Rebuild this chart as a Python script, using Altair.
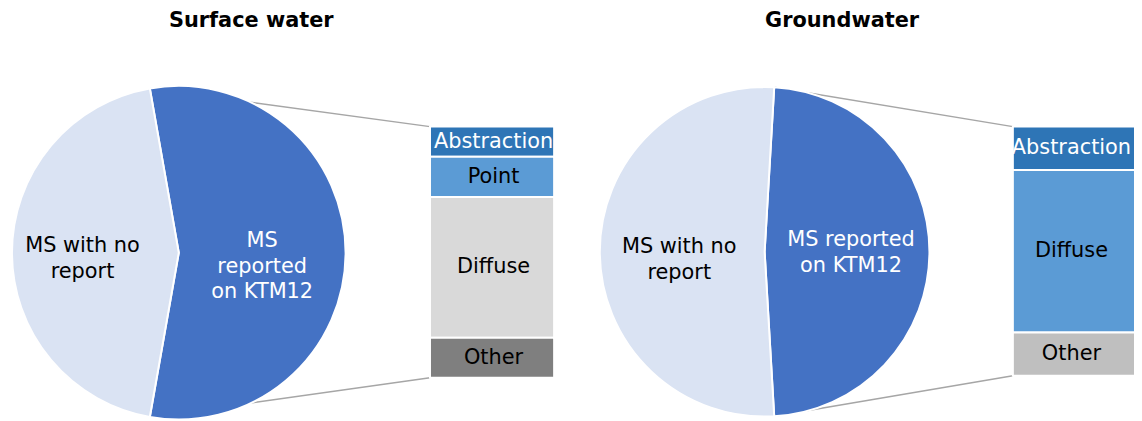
import math
import altair as alt
import pandas as pd

FONT = "DejaVu Sans"

# ---- data ----
panels = ["Surface water", "Groundwater"]
pie_categories = ["MS reported on KTM12", "MS with no report"]
surface_pie_labels = ["MS\nreported\non KTM12", "MS with no\nreport"]
ground_pie_labels = ["MS reported\non KTM12", "MS with no\nreport"]
surface_pie_values = [15, 12]
ground_pie_values = [13, 14]

surface_segments = ["Abstraction", "Point", "Diffuse", "Other"]
surface_segment_values = [3, 4, 14, 4]
ground_segments = ["Abstraction", "Diffuse", "Other"]
ground_segment_values = [4, 15, 4]

# ---- styles / layout ----
PIE_COLORS = ["#4472C4", "#DAE3F3"]
SURFACE_BAR_COLORS = ["#2E75B6", "#5B9BD5", "#D9D9D9", "#7F7F7F"]
GROUND_BAR_COLORS = ["#2E75B6", "#5B9BD5", "#BFBFBF"]
LINE_COLOR = "#A6A6A6"
W, H = 1134, 413
FS = 21
LH = 26


def pie_layers(values, labels, cx, cy, r, bar_x, bar_top, bar_bottom, label_pos):
    total = sum(values)
    theta_dark = 2 * math.pi * values[0] / total
    a0 = -(theta_dark - math.pi) / 2
    df = pd.DataFrame({"cat": pie_categories, "value": values,
                       "label": labels, "idx": [0, 1]})
    theta = alt.Theta("value:Q", stack=True,
                      scale=alt.Scale(domain=[0, total], range=[a0, a0 + 2 * math.pi]))
    arc = alt.Chart(df).mark_arc(outerRadius=r, stroke="white", strokeWidth=2).encode(
        theta=theta,
        order=alt.Order("idx:Q"),
        color=alt.Color("cat:N", scale=alt.Scale(domain=pie_categories, range=PIE_COLORS),
                        legend=None),
        x=alt.value(cx), y=alt.value(cy),
    )
    texts = []
    for i, (rad, off) in enumerate(label_pos):
        nlines = labels[i].count("\n") + 1
        texts.append(alt.Chart(df).transform_calculate(
            txt=f"datum.idx == {i} ? datum.label : ''"
        ).mark_text(radius=rad, fontSize=FS, font=FONT, lineBreak="\n",
                    baseline="middle", align="center", lineHeight=LH,
                    dy=off - (nlines - 1) * LH / 2,
                    color="white" if i == 0 else "black").encode(
            theta=theta,
            order=alt.Order("idx:Q"),
            text="txt:N",
            x=alt.value(cx), y=alt.value(cy),
        ))
    # connector lines from slice edges to bar corners
    a1 = a0 + theta_dark
    pts = [(cx + r * math.sin(a0), cy - r * math.cos(a0), bar_x, bar_top),
           (cx + r * math.sin(a1), cy - r * math.cos(a1), bar_x, bar_bottom)]
    rules = []
    for (x1, y1, x2, y2) in pts:
        rules.append(alt.Chart(pd.DataFrame({"k": [0]})).mark_rule(
            color=LINE_COLOR, strokeWidth=1.5).encode(
            x=alt.value(x1), y=alt.value(y1), x2=alt.value(x2), y2=alt.value(y2)))
    return rules, [arc] + texts


def bar_layers(segs, vals, colors, x0, x1, top, bottom, label_x):
    df = pd.DataFrame({"seg": segs, "value": vals, "idx": list(range(len(segs)))})
    yscale = alt.Scale(domain=[0, 1], range=[bottom, top], nice=False, zero=False)
    base = alt.Chart(df).transform_stack(
        stack="value", groupby=[], as_=["y0", "y1"], offset="normalize",
        sort=[alt.SortField("idx", order="descending")]
    ).transform_calculate(mid="(datum.y0 + datum.y1) / 2")
    bar = base.mark_bar(stroke="white", strokeWidth=2).encode(
        x=alt.value(x0), x2=alt.value(x1),
        y=alt.Y("y0:Q", scale=yscale, axis=None), y2="y1:Q",
        color=alt.Color("seg:N", scale=alt.Scale(domain=segs, range=colors), legend=None),
    )
    text = base.mark_text(fontSize=FS, font=FONT, baseline="middle", align="center").encode(
        x=alt.value(label_x),
        y=alt.Y("mid:Q", scale=yscale, axis=None),
        text="seg:N",
        color=alt.condition(alt.datum.seg == "Abstraction", alt.value("white"), alt.value("black")),
    )
    return [bar, text]


r1, m1 = pie_layers(surface_pie_values, surface_pie_labels, 172, 245, 168, 425, 118, 371,
                    [(84, 14), (97, 6)])
r2, m2 = pie_layers(ground_pie_values, ground_pie_labels, 762, 244, 166, 1012, 118, 369,
                    [(87, 1), (86, 8)])
b1 = bar_layers(surface_segments, surface_segment_values, SURFACE_BAR_COLORS,
                425, 550, 118, 371, 489)
b2 = bar_layers(ground_segments, ground_segment_values, GROUND_BAR_COLORS,
                1012, 1140, 118, 369, 1071)

titles = []
for t, tx in zip(panels, [245, 840]):
    titles.append(alt.Chart(pd.DataFrame({"t": [t]})).mark_text(
        fontSize=21, font=FONT, fontWeight="bold", baseline="middle", align="center").encode(
        text="t:N", x=alt.value(tx), y=alt.value(12)))

chart = alt.layer(*(r1 + r2 + m1 + m2 + b1 + b2 + titles)).resolve_scale(
    theta="independent", color="independent", y="independent"
).properties(
    width=W, height=H, padding=0, background="white",
    autosize=alt.AutoSizeParams(type="none"),
).configure_view(stroke=None)

chart.save("out.html", embed_options={"renderer": "svg", "actions": False})
